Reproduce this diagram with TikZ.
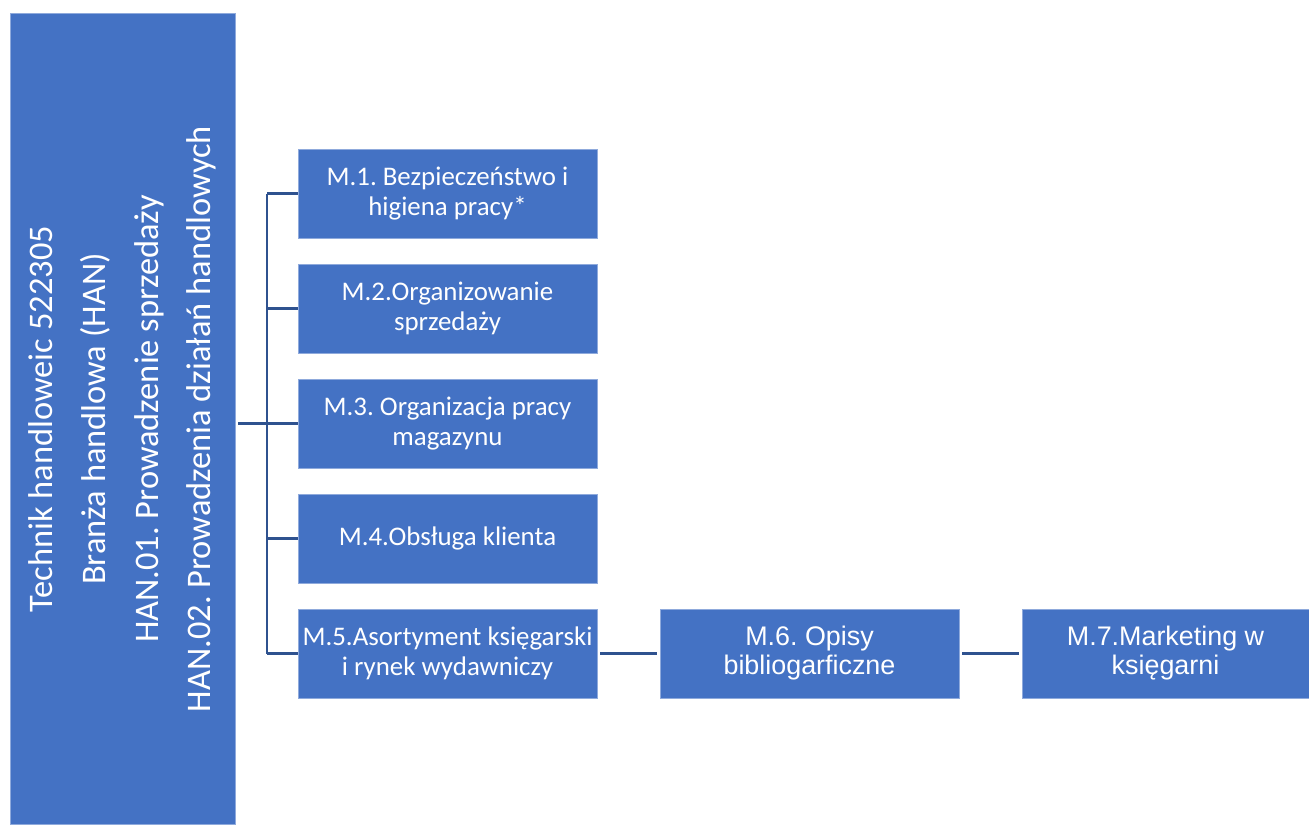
\documentclass[tikz,border=0pt]{standalone}
\usepackage{fontspec}
\setmainfont{Carlito}
\newfontfamily\arialfont{Liberation Sans}
\definecolor{boxblue}{HTML}{4472C4}
\definecolor{edgeblue}{HTML}{8FAADC}
\definecolor{lineblue}{HTML}{2F528F}
\tikzset{
  modbox/.style={fill=boxblue, draw=edgeblue, line width=0.5pt, text=white,
    minimum width=5.98cm, minimum height=1.78cm, align=center, inner sep=2pt,
    font=\frenchspacing\fontsize{15.3}{17}\selectfont},
  headbox/.style={fill=boxblue, draw=edgeblue, line width=0.5pt, text=white,
    minimum width=4.5cm, minimum height=16.24cm},
  link/.style={draw=lineblue, line width=1.5pt}
}
\begin{document}
\begin{tikzpicture}[x=0.02cm, y=-0.02cm]
      % Fix the page to the reference size
      \useasboundingbox (0,0) rectangle (1309,825);

      % Qualification column on the left
      \node[headbox] (han) at (122.5,419) {};
      \node[rotate=90, text=white, align=center,
            font=\frenchspacing\fontsize{19.6}{30}\selectfont] (hantext) at (han.center)
        {Technik handloweic 522305\\
         Branża handlowa (HAN)\\
         HAN.01. Prowadzenie sprzedaży\\
         HAN.02. Prowadzenia działań handlowych};

      % Modules
      \node[modbox] (m1) at (447.5,193.5) {M.1. Bezpieczeństwo i\\higiena pracy*};
      \node[modbox] (m2) at (447.5,308.5) {M.2.Organizowanie\\sprzedaży};
      \node[modbox] (m3) at (447.5,423.5) {M.3. Organizacja pracy\\magazynu};
      \node[modbox] (m4) at (447.5,538.5) {M.4.Obsługa klienta};
      \node[modbox] (m5) at (447.5,653.5) {M.5.Asortyment księgarski\\i rynek wydawniczy};
      \node[modbox, font=\arialfont\frenchspacing\fontsize{15.3}{16.5}\selectfont] (m6) at (809.5,653.5)
        {M.6. Opisy\\bibliogarficzne};
      \node[modbox, minimum width=5.74cm, font=\arialfont\frenchspacing\fontsize{15.3}{16.5}\selectfont]
        (m7) at (1165.5,653.5) {M.7.Marketing w\\księgarni};

      % Bracket joining the modules
      \coordinate (trunk) at (267,0);
      \draw[link, shorten <=1.5pt] (han.east |- m3) -- (m3.west);
      \draw[link] (trunk |- m1) -- (trunk |- m5);
      \foreach \m in {m1,m2,m4,m5}
        \draw[link] (trunk |- \m) -- (\m.west);

      % Chain of the last modules
      \draw[link, shorten <=1.7pt, shorten >=1.7pt] (m5) -- (m6);
      \draw[link, shorten <=1.7pt, shorten >=1.7pt] (m6) -- (m7);
\end{tikzpicture}
\end{document}
